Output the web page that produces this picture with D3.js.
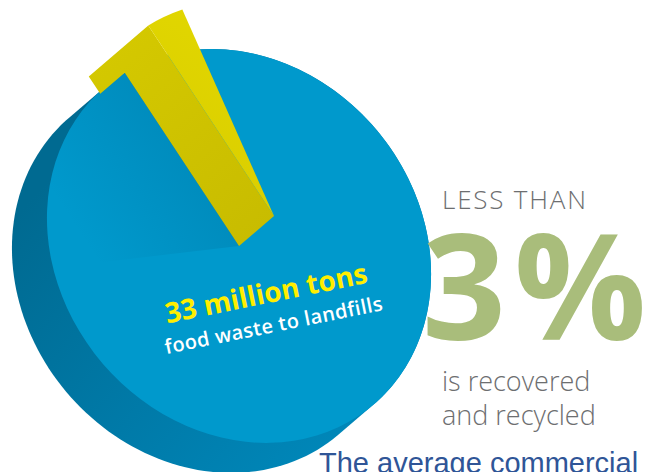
<!DOCTYPE html>
<html><head><meta charset="utf-8">
<script src="https://cdn.jsdelivr.net/npm/d3@7"></script>
<style>html,body{margin:0;padding:0;background:#fff;} svg{display:block;}</style>
</head><body>
<svg id="chart" width="648" height="472"></svg>
<script>
// ---- data ----
const categories = ["Food waste to landfills", "Recovered and recycled"];
const values = [97, 3];
const pieLabel = ["33 million tons", "food waste to landfills"];
const statIntro = ["LESS THAN"];
const statValue = ["3%"];
const statOutro = ["is recovered", "and recycled"];
const footerText = ["The average commercial"];

// ---- setup ----
const svg = d3.select("#chart");
const defs = svg.append("defs");
const deg = Math.PI / 180;

// oblique projection of the pie plane
const C = [239, 246], A = 208, B = 180, th = 50 * deg;
const e1 = [Math.cos(th), Math.sin(th)], e2 = [-Math.sin(th), Math.cos(th)];
const Hv = [35, -30];      // thickness vector (top face z=0, bottom z=-1)
const R0 = 100;            // local rim radius
function proj(p, z) {
  const u = p[0] / R0 * A, v = p[1] / R0 * B;
  return [C[0] + u * e1[0] + v * e2[0] + z * Hv[0], C[1] + u * e1[1] + v * e2[1] + z * Hv[1]];
}
function matrix(z) {
  return `matrix(${A / R0 * e1[0]},${A / R0 * e1[1]},${B / R0 * e2[0]},${B / R0 * e2[1]},${C[0] + z * Hv[0]},${C[1] + z * Hv[1]})`;
}
const polar = (r, a) => [r * Math.sin(a), -r * Math.cos(a)];

// pie layout (recovered slice ends at -71.6deg)
const endA = -71.6 * deg;
const pie = d3.pie().sort(null).startAngle(endA).endAngle(endA + 2 * Math.PI);
const slices = pie(values);
const land = slices[0], rec = slices[1];
const arc = d3.arc().innerRadius(0).outerRadius(R0);

// ---- gradients ----
const sideGrad = defs.append("linearGradient").attr("id", "sideGrad")
  .attr("gradientUnits", "userSpaceOnUse").attr("x1", 30).attr("y1", 200).attr("x2", 330).attr("y2", 460);
sideGrad.append("stop").attr("offset", 0).attr("stop-color", "#006a91");
sideGrad.append("stop").attr("offset", 0.55).attr("stop-color", "#007aa8");
sideGrad.append("stop").attr("offset", 1).attr("stop-color", "#0087b9");

const aL = rec.startAngle;
const q0 = polar(0.5 * R0, aL);
const pd = polar(1, aL - Math.PI / 2);
const shGrad = defs.append("linearGradient").attr("id", "shGrad")
  .attr("gradientUnits", "userSpaceOnUse")
  .attr("x1", q0[0]).attr("y1", q0[1])
  .attr("x2", q0[0] + pd[0] * 0.7 * R0).attr("y2", q0[1] + pd[1] * 0.7 * R0);
shGrad.append("stop").attr("offset", 0).attr("stop-color", "#00618c").attr("stop-opacity", 0.22);
shGrad.append("stop").attr("offset", 1).attr("stop-color", "#00618c").attr("stop-opacity", 0);

const ySide = defs.append("linearGradient").attr("id", "ySide")
  .attr("gradientUnits", "userSpaceOnUse").attr("x1", 110).attr("y1", 50).attr("x2", 260).attr("y2", 235);
ySide.append("stop").attr("offset", 0).attr("stop-color", "#d4c800");
ySide.append("stop").attr("offset", 1).attr("stop-color", "#c8bc00");

const yTop = defs.append("linearGradient").attr("id", "yTop")
  .attr("x1", 0).attr("y1", 0).attr("x2", 1).attr("y2", 1);
yTop.append("stop").attr("offset", 0).attr("stop-color", "#e1d600");
yTop.append("stop").attr("offset", 1).attr("stop-color", "#dbcf00");

// ---- blue side (extrusion) ----
const ring = d3.range(0, 360, 2).map(d => d * deg);
const pts = [];
[0, -1].forEach(z => ring.forEach(a => pts.push(proj(polar(R0, a), z))));
const hull = d3.polygonHull(pts);
svg.append("path").attr("d", d3.line().curve(d3.curveLinearClosed)(hull)).attr("fill", "url(#sideGrad)");

// ---- blue top face (landfill slice) ----
svg.append("path").attr("d", arc(land)).attr("transform", matrix(0)).attr("fill", "#0099cc");

// shadow cast by the raised slice
svg.append("path")
  .attr("d", d3.arc().innerRadius(0).outerRadius(R0)({ startAngle: aL - 68 * deg, endAngle: aL }))
  .attr("transform", matrix(0)).attr("fill", "url(#shGrad)");

// ---- yellow raised slice ----
const s = 1.1, zt = 1.0, zb = -0.7;
const sideFace = [
  proj([0, 0], 0),
  proj([0, 0], zt),
  proj(polar(s * R0, aL), zt),
  proj(polar(s * R0, aL), zb),
  proj(polar(R0, aL), zb),
  proj(polar(R0, aL), 0)
];
svg.append("path").attr("d", d3.line().curve(d3.curveLinearClosed)(sideFace)).attr("fill", "url(#ySide)");
svg.append("path")
  .attr("d", d3.arc().innerRadius(0).outerRadius(s * R0)(rec))
  .attr("transform", matrix(zt)).attr("fill", "url(#yTop)");

// ---- pie labels ----
svg.append("text").attr("transform", "translate(268,303) rotate(-11.5)")
  .attr("text-anchor", "middle").attr("font-family", "'Open Sans', sans-serif")
  .attr("font-weight", 700).attr("font-size", 28).attr("fill", "#ffee00").text(pieLabel[0]);
svg.append("text").attr("transform", "translate(275,332) rotate(-11.5)")
  .attr("text-anchor", "middle").attr("font-family", "'Open Sans', sans-serif")
  .attr("font-weight", 600).attr("font-size", 20).attr("letter-spacing", 0.4).attr("fill", "#ffffff").text(pieLabel[1]);

// ---- stat text ----
const gray = "#6d6e70";
svg.append("text").attr("x", 442).attr("y", 209).attr("font-family", "'Open Sans', sans-serif")
  .attr("font-weight", 300).attr("font-size", 26).attr("fill", gray)
  .attr("textLength", 144).attr("lengthAdjust", "spacing").text(statIntro[0]);
svg.append("text").attr("x", 422).attr("y", 340).attr("font-family", "'Open Sans', sans-serif")
  .attr("font-weight", 700).attr("font-size", 147).attr("letter-spacing", 8).attr("fill", "#a9bd7b").text(statValue[0]);
statOutro.forEach((t, i) => {
  svg.append("text").attr("x", 442).attr("y", 391 + i * 34).attr("font-family", "'Open Sans', sans-serif")
    .attr("font-weight", 300).attr("font-size", 27).attr("fill", gray).text(t);
});
svg.append("text").attr("x", 319).attr("y", 473).attr("font-family", "'Liberation Sans', Arial, sans-serif")
  .attr("font-size", 29).attr("fill", "#2f5597").text(footerText[0]);
</script>
</body></html>
